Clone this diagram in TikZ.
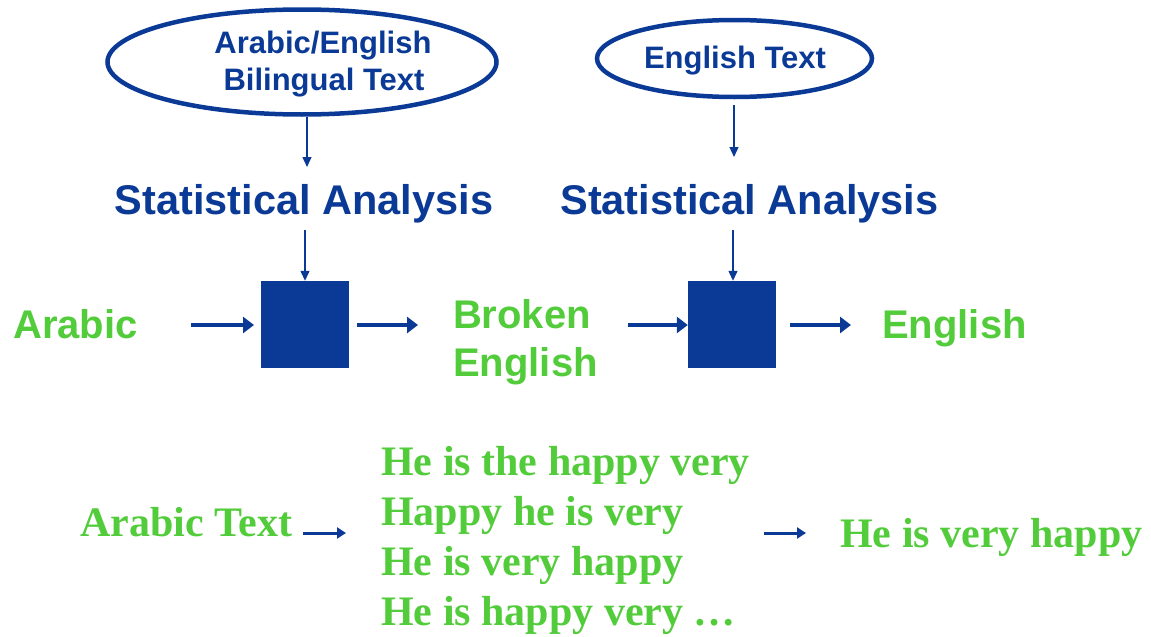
\documentclass[tikz,border=0pt]{standalone}
\usepackage{fontspec}
\setmainfont{Liberation Serif}
\newfontfamily\arialfont{Liberation Sans}
\usetikzlibrary{shapes.geometric,arrows.meta}
\definecolor{dblue}{RGB}{10,58,150}
\definecolor{lgreen}{RGB}{82,204,58}
\tikzset{
  ovalbox/.style={ellipse, draw=dblue, line width=4.5pt, inner sep=0pt},
  blocksq/.style={fill=dblue, draw=none, minimum width=88pt, minimum height=87pt, inner sep=0pt},
  ovaltext/.style={text=dblue, font=\arialfont\bfseries\fontsize{31}{36}\selectfont, inner sep=0pt, anchor=base},
  stattext/.style={text=dblue, font=\arialfont\bfseries\fontsize{41.5}{48}\selectfont, inner sep=0pt, anchor=base},
  flowtext/.style={text=lgreen, font=\arialfont\bfseries\fontsize{40}{48}\selectfont, inner sep=0pt},
  serifgreen/.style={text=lgreen, font=\bfseries\fontsize{42}{50}\selectfont, inner sep=0pt, anchor=base west},
  thinarr/.style={draw=dblue, line width=1.3pt, -{Triangle[length=10pt,width=9pt]}},
  thickarr/.style={draw=dblue, line width=4.5pt, -{Triangle[length=11pt,width=16pt]}},
  smallarr/.style={draw=dblue, line width=3pt, -{Triangle[length=9pt,width=11pt]}}
}
\begin{document}
\begin{tikzpicture}[x=1pt,y=-1pt]
\useasboundingbox (0,0) rectangle (1151,637);
% top ellipses
\node[ovalbox, minimum width=389pt, minimum height=105pt] (e1) at (302,62) {};
\node[ovaltext] (e1a) at (323,53) {Arabic/English};
\node[ovaltext] (e1b) at (324,90) {Bilingual Text};
\node[ovalbox, minimum width=275pt, minimum height=77pt] (e2) at (734.5,58.5) {};
\node[ovaltext] (e2a) at (735,68) {English Text};
% statistical analysis
\node[stattext] (sa1) at (304,214) {Statistical Analysis};
\node[stattext] (sa2) at (749.5,214) {Statistical Analysis};
% boxes
\node[blocksq] (b1) at (305,324.5) {};
\node[blocksq] (b2) at (732,324.5) {};
% flow texts
\node[flowtext, anchor=base west] (ar) at (13,338) {Arabic};
\node[flowtext, anchor=base] (br1) at (522,328) {Broken};
\node[flowtext, anchor=base] (br2) at (525.5,376) {English};
\node[flowtext, anchor=base west] (en) at (882,338) {English};
% named coordinates for arrow ends
\coordinate (c1) at (307,117);
\coordinate (c2) at (307,167);
\coordinate (c3) at (305,230);
\coordinate (c4) at (734,105);
\coordinate (c5) at (734,157);
\coordinate (c6) at (733,230);
% vertical arrows
\draw[thinarr] (c1) -- (c2);
\draw[thinarr] (c3) -- (b1.north -| c3);
\draw[thinarr] (c4) -- (c5);
\draw[thinarr] (c6) -- (b2.north -| c6);
% horizontal arrows
\coordinate (h1) at (191,325);
\coordinate (h2) at (254,325);
\coordinate (h3) at (418,325);
\coordinate (h4) at (628,325);
\coordinate (h5) at (851,325);
\draw[thickarr] (h1) -- (h2);
\draw[thickarr] (b1.east |- h3) ++(8,0) -- (h3);
\draw[thickarr] (h4) -- (b2.west |- h4);
\draw[thickarr] (b2.east |- h5) ++(14,0) -- (h5);
% bottom
\node[serifgreen] (at) at (80,536) {Arabic Text};
\node[serifgreen] (l1) at (381,475) {He is the happy very};
\node[serifgreen] (l2) at (381,525) {Happy he is very};
\node[serifgreen] (l3) at (381,575) {He is very happy};
\node[serifgreen] (l4) at (381,625) {He is happy very …};
\node[serifgreen] (res) at (840,547) {He is very happy};
\coordinate (d1) at (346,533);
\coordinate (d2) at (764,533);
\coordinate (d3) at (806,533);
\draw[smallarr] (at.east |- d1) ++(11,0) -- (d1);
\draw[smallarr] (d2) -- (d3);
\end{tikzpicture}
\end{document}
